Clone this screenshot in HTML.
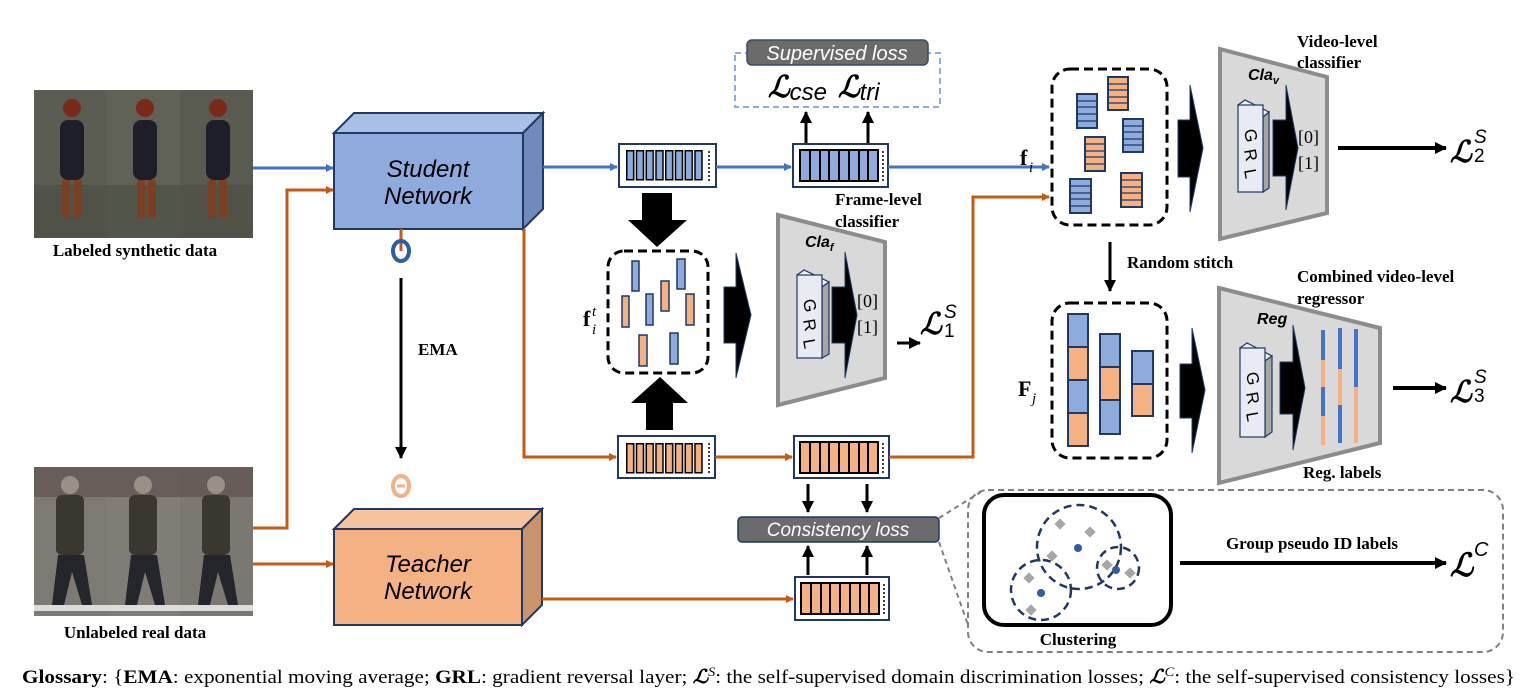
<!DOCTYPE html>
<html><head><meta charset="utf-8"><style>
html,body{margin:0;padding:0;background:#fff;}
svg{display:block;}
.lbl{font-family:"Liberation Serif",serif;font-weight:bold;font-size:17px;fill:#000;}
.net{font-family:"Liberation Sans",sans-serif;font-style:italic;font-size:24px;fill:#000;}
.scr{font-family:"DejaVu Serif","Liberation Serif",serif;font-style:italic;font-weight:bold;}
.mono{font-family:"Liberation Serif",serif;font-size:18px;}
</style></head><body>
<svg width="1525" height="699" viewBox="0 0 1525 699" xmlns="http://www.w3.org/2000/svg">
<defs>
<marker id="ab" markerWidth="8" markerHeight="8" refX="7" refY="4" orient="auto" markerUnits="userSpaceOnUse"><path d="M0,0 L8,4 L0,8 z" fill="#4472c4"/></marker>
<marker id="ao" markerWidth="8" markerHeight="8" refX="7" refY="4" orient="auto" markerUnits="userSpaceOnUse"><path d="M0,0 L8,4 L0,8 z" fill="#c55a11"/></marker>
<marker id="ak" markerWidth="12" markerHeight="12" refX="11" refY="6" orient="auto" markerUnits="userSpaceOnUse"><path d="M0,0 L12,6 L0,12 z" fill="#000"/></marker>
<pattern id="pb" width="9.75" height="40" patternUnits="userSpaceOnUse" x="626" y="150"><rect x="0.75" y="0.75" width="7" height="29" fill="#8faadc" stroke="#000" stroke-width="1.5"/></pattern>
<pattern id="po" width="9.75" height="40" patternUnits="userSpaceOnUse" x="626" y="443"><rect x="0.75" y="0.75" width="7" height="29" fill="#f4b183" stroke="#000" stroke-width="1.5"/></pattern>
</defs>

<!-- synthetic images -->
<g>
<rect x="34" y="90" width="73" height="148" fill="#5b5d52"/>
<rect x="107" y="90" width="73" height="148" fill="#606256"/>
<rect x="180" y="90" width="73" height="148" fill="#5a5b50"/>
<rect x="34" y="185" width="219" height="53" fill="#4d5046" opacity="0.7"/>
<g fill="#1e1e28">
<rect x="60" y="120" width="24" height="60" rx="8"/><rect x="133" y="120" width="24" height="60" rx="8"/><rect x="206" y="120" width="24" height="60" rx="8"/>
</g>
<g fill="#7a2a1a"><circle cx="72" cy="108" r="9"/><circle cx="145" cy="108" r="9"/><circle cx="218" cy="108" r="9"/></g>
<g fill="#7b3f22"><rect x="62" y="180" width="8" height="38"/><rect x="74" y="180" width="8" height="38"/><rect x="137" y="180" width="8" height="38"/><rect x="148" y="180" width="8" height="38"/><rect x="208" y="180" width="8" height="38"/><rect x="219" y="180" width="8" height="38"/></g>
</g>
<text class="lbl" x="135" y="256" text-anchor="middle">Labeled synthetic data</text>

<!-- real images -->
<g>
<rect x="34" y="467" width="73" height="149" fill="#7d7a74"/>
<rect x="107" y="467" width="73" height="149" fill="#807c76"/>
<rect x="180" y="467" width="73" height="149" fill="#7b7872"/>
<rect x="34" y="467" width="219" height="30" fill="#5a4a48" opacity="0.6"/>
<g fill="#3a3630"><rect x="56" y="495" width="28" height="60" rx="6"/><rect x="129" y="495" width="28" height="60" rx="6"/><rect x="202" y="495" width="28" height="60" rx="6"/></g>
<g fill="#25262c"><path d="M58,555 L84,555 L92,605 L82,605 L72,572 L64,605 L52,605z"/><path d="M131,555 L157,555 L165,605 L155,605 L145,572 L137,605 L125,605z"/><path d="M204,555 L230,555 L238,605 L228,605 L218,572 L210,605 L198,605z"/></g>
<g fill="#9a9088"><circle cx="70" cy="485" r="9"/><circle cx="143" cy="485" r="9"/><circle cx="216" cy="485" r="9"/></g>
<rect x="34" y="605" width="219" height="6" fill="#dcdcdc"/>
</g>
<text class="lbl" x="135" y="638" text-anchor="middle">Unlabeled real data</text>

<!-- student network -->
<polygon points="334,133 354,113 543,113 523,133" fill="#a9bfe6" stroke="#1f3864" stroke-width="2"/>
<polygon points="523,133 543,113 543,209 523,229" fill="#7189bb" stroke="#1f3864" stroke-width="2"/>
<rect x="334" y="133" width="189" height="96" fill="#8faadc" stroke="#1f3864" stroke-width="2"/>
<text class="net" x="428" y="177" text-anchor="middle">Student</text>
<text class="net" x="428" y="204" text-anchor="middle">Network</text>

<!-- teacher network -->
<polygon points="334,529 354,509 542,509 522,529" fill="#f6c49e" stroke="#1f3864" stroke-width="2"/>
<polygon points="522,529 542,509 542,605 522,625" fill="#c9936b" stroke="#1f3864" stroke-width="2"/>
<rect x="334" y="529" width="188" height="96" fill="#f4b183" stroke="#1f3864" stroke-width="2"/>
<text class="net" x="428" y="572" text-anchor="middle">Teacher</text>
<text class="net" x="428" y="599" text-anchor="middle">Network</text>

<!-- input arrows -->
<line x1="253" y1="168" x2="333" y2="168" stroke="#4472c4" stroke-width="3" marker-end="url(#ab)"/>
<polyline points="253,528 287,528 287,190 333,190" fill="none" stroke="#c55a11" stroke-width="3" marker-end="url(#ao)"/>
<line x1="253" y1="564" x2="333" y2="564" stroke="#c55a11" stroke-width="3" marker-end="url(#ao)"/>

<!-- theta / EMA -->
<line x1="401" y1="229" x2="401" y2="251" stroke="#c55a11" stroke-width="3"/>
<ellipse cx="401" cy="251" rx="8" ry="10" fill="none" stroke="#2e5ca8" stroke-width="4"/>
<line x1="401" y1="278" x2="401" y2="458" stroke="#000" stroke-width="3" marker-end="url(#ak)"/>
<text class="lbl" x="418" y="355">EMA</text>
<ellipse cx="401" cy="486" rx="8" ry="10" fill="none" stroke="#f4b183" stroke-width="4"/>
<line x1="397" y1="486" x2="405" y2="486" stroke="#f4b183" stroke-width="3"/>

<!-- student outputs -->
<line x1="543" y1="167" x2="617" y2="167" stroke="#4472c4" stroke-width="3" marker-end="url(#ab)"/>
<polyline points="524,229 524,457 616,457" fill="none" stroke="#c55a11" stroke-width="3" marker-end="url(#ao)"/>

<!-- feature box 1 blue -->
<rect x="619" y="144" width="97" height="43" fill="#fff" stroke="#1f3864" stroke-width="2"/>
<rect x="626" y="150" width="78" height="31" fill="url(#pb)"/>
<line x1="709" y1="151" x2="709" y2="181" stroke="#000" stroke-width="1.5" stroke-dasharray="2,2"/>
<line x1="716" y1="167" x2="791" y2="167" stroke="#4472c4" stroke-width="3" marker-end="url(#ab)"/>
<!-- feature box 2 blue -->
<rect x="793" y="144" width="95" height="43" fill="#fff" stroke="#1f3864" stroke-width="2"/>
<rect x="800" y="150" width="78" height="31" fill="#8faadc" stroke="#000" stroke-width="2"/>
<g stroke="#000" stroke-width="2"><line x1="810" y1="150" x2="810" y2="181"/><line x1="820" y1="150" x2="820" y2="181"/><line x1="829" y1="150" x2="829" y2="181"/><line x1="839" y1="150" x2="839" y2="181"/><line x1="849" y1="150" x2="849" y2="181"/><line x1="859" y1="150" x2="859" y2="181"/><line x1="868" y1="150" x2="868" y2="181"/></g>
<line x1="883" y1="151" x2="883" y2="181" stroke="#000" stroke-width="1.5" stroke-dasharray="2,2"/>
<line x1="888" y1="167" x2="1049" y2="167" stroke="#4472c4" stroke-width="3" marker-end="url(#ab)"/>

<!-- supervised loss -->
<rect x="735" y="53" width="205" height="54" fill="none" stroke="#8faadc" stroke-width="2" stroke-dasharray="6,4"/>
<rect x="747" y="40" width="181" height="25" rx="5" fill="#6b6b6b" stroke="#3a4a6a" stroke-width="1.5"/>
<text x="837" y="60" text-anchor="middle" font-family="Liberation Sans,sans-serif" font-style="italic" font-size="20" fill="#fff">Supervised loss</text>
<text class="scr" x="768" y="97" font-size="30">ℒ<tspan font-size="24" font-weight="normal" font-style="italic" font-family="Liberation Sans,sans-serif" dy="3">cse</tspan></text>
<text class="scr" x="838" y="97" font-size="30">ℒ<tspan font-size="24" font-weight="normal" font-style="italic" font-family="Liberation Sans,sans-serif" dy="3">tri</tspan></text>
<line x1="806" y1="143" x2="806" y2="112" stroke="#000" stroke-width="3" marker-end="url(#ak)"/>
<line x1="868" y1="143" x2="868" y2="112" stroke="#000" stroke-width="3" marker-end="url(#ak)"/>
<text class="lbl" x="835" y="205">Frame-level</text>
<text class="lbl" x="835" y="227">classifier</text>

<!-- big arrows -->
<polygon points="642,193 672,193 672,220 687,220 657,247 628,220 642,220" fill="#000"/>
<polygon points="646,430 673,430 673,403 688,403 660,377 631,403 646,403" fill="#000"/>

<!-- fi^t box -->
<rect x="608" y="251" width="100" height="122" rx="16" fill="none" stroke="#000" stroke-width="3" stroke-dasharray="9,5"/>
<g stroke="#1f3864" stroke-width="1.5">
<rect x="632" y="261" width="7" height="30" fill="#8faadc"/>
<rect x="677" y="259" width="8" height="30" fill="#8faadc"/>
<rect x="661" y="281" width="8" height="30" fill="#f4b183"/>
<rect x="622" y="296" width="7" height="31" fill="#f4b183"/>
<rect x="646" y="294" width="7" height="31" fill="#8faadc"/>
<rect x="686" y="294" width="8" height="31" fill="#f4b183"/>
<rect x="639" y="335" width="8" height="31" fill="#f4b183"/>
<rect x="670" y="333" width="8" height="31" fill="#8faadc"/>
</g>
<text x="583" y="326" font-family="Liberation Serif,serif" font-weight="bold" font-size="22">f</text>
<text x="592" y="316" font-family="Liberation Serif,serif" font-style="italic" font-size="15">t</text>
<text x="592" y="334" font-family="Liberation Serif,serif" font-style="italic" font-size="15">i</text>

<!-- chevron arrow 1 -->
<polygon points="724,287 736,287 736,253 751,315 736,378 736,343 724,343" fill="#000" stroke="#1f3864"/>

<!-- Cla_f -->
<polygon points="778,215 885,242 885,378 778,405" fill="#d9d9d9" stroke="#8c8c8c" stroke-width="4"/>
<text x="805" y="247" font-family="Liberation Sans,sans-serif" font-style="italic" font-weight="bold" font-size="16">Cla<tspan font-size="11" dy="4">f</tspan></text>
<polygon points="797,275 804,270 829,282 822,287" fill="#eef0f6" stroke="#1f3864" stroke-width="1.2"/>
<polygon points="822,287 829,282 829,354 822,358" fill="#a6a6a6" stroke="#1f3864" stroke-width="1.2"/>
<rect x="797" y="275" width="25" height="83" fill="#e8ebf3" stroke="#1f3864" stroke-width="1.2"/>
<text font-family="Liberation Sans,sans-serif" font-size="17" transform="translate(803,300) rotate(80)">G</text>
<text font-family="Liberation Sans,sans-serif" font-size="17" transform="translate(803,320) rotate(80)">R</text>
<text font-family="Liberation Sans,sans-serif" font-size="17" transform="translate(803,340) rotate(80)">L</text>
<polygon points="832,287 845,287 845,252 857,315 845,378 845,343 832,343" fill="#000" stroke="#1f3864"/>
<text class="mono" x="857" y="307">[0]</text>
<text class="mono" x="857" y="333">[1]</text>
<line x1="897" y1="343" x2="920" y2="343" stroke="#000" stroke-width="3" marker-end="url(#ak)"/>
<text class="scr" x="920" y="334" font-size="30">ℒ</text>
<text x="944" y="318" font-family="Liberation Sans,sans-serif" font-style="italic" font-size="19">S</text>
<text x="944" y="337" font-family="Liberation Sans,sans-serif" font-size="19">1</text>

<!-- bottom orange feature boxes -->
<rect x="618" y="436" width="97" height="42" fill="#fff" stroke="#1f3864" stroke-width="2"/>
<rect x="626" y="443" width="78" height="31" fill="url(#po)"/>
<line x1="709" y1="443" x2="709" y2="473" stroke="#000" stroke-width="1.5" stroke-dasharray="2,2"/>
<line x1="715" y1="457" x2="792" y2="457" stroke="#c55a11" stroke-width="3" marker-end="url(#ao)"/>
<rect x="794" y="436" width="95" height="42" fill="#fff" stroke="#1f3864" stroke-width="2"/>
<rect x="800" y="442" width="78" height="31" fill="#f4b183" stroke="#000" stroke-width="2"/>
<g stroke="#000" stroke-width="2"><line x1="810" y1="442" x2="810" y2="473"/><line x1="820" y1="442" x2="820" y2="473"/><line x1="829" y1="442" x2="829" y2="473"/><line x1="839" y1="442" x2="839" y2="473"/><line x1="849" y1="442" x2="849" y2="473"/><line x1="859" y1="442" x2="859" y2="473"/><line x1="868" y1="442" x2="868" y2="473"/></g>
<line x1="883" y1="443" x2="883" y2="473" stroke="#000" stroke-width="1.5" stroke-dasharray="2,2"/>
<polyline points="889,457 973,457 973,197 1049,197" fill="none" stroke="#c55a11" stroke-width="3" marker-end="url(#ao)"/>

<!-- consistency -->
<line x1="808" y1="484" x2="808" y2="512" stroke="#000" stroke-width="3" marker-end="url(#ak)"/>
<line x1="867" y1="484" x2="867" y2="512" stroke="#000" stroke-width="3" marker-end="url(#ak)"/>
<rect x="738" y="517" width="201" height="25" rx="4" fill="#6b6b6b" stroke="#1f3864" stroke-width="1.5"/>
<text x="838" y="536" text-anchor="middle" font-family="Liberation Sans,sans-serif" font-style="italic" font-size="19" fill="#fff">Consistency loss</text>
<line x1="808" y1="575" x2="808" y2="546" stroke="#000" stroke-width="3" marker-end="url(#ak)"/>
<line x1="867" y1="575" x2="867" y2="546" stroke="#000" stroke-width="3" marker-end="url(#ak)"/>
<rect x="795" y="577" width="94" height="43" fill="#fff" stroke="#1f3864" stroke-width="2"/>
<rect x="801" y="583" width="78" height="31" fill="#f4b183" stroke="#000" stroke-width="2"/>
<g stroke="#000" stroke-width="2"><line x1="811" y1="583" x2="811" y2="614"/><line x1="821" y1="583" x2="821" y2="614"/><line x1="830" y1="583" x2="830" y2="614"/><line x1="840" y1="583" x2="840" y2="614"/><line x1="850" y1="583" x2="850" y2="614"/><line x1="860" y1="583" x2="860" y2="614"/><line x1="869" y1="583" x2="869" y2="614"/></g>
<line x1="884" y1="584" x2="884" y2="614" stroke="#000" stroke-width="1.5" stroke-dasharray="2,2"/>
<line x1="542" y1="599" x2="793" y2="599" stroke="#c55a11" stroke-width="3" marker-end="url(#ao)"/>

<!-- clustering region -->
<rect x="968" y="490" width="535" height="162" rx="20" fill="none" stroke="#808080" stroke-width="2" stroke-dasharray="6,4"/>
<line x1="939" y1="518" x2="984" y2="490" stroke="#808080" stroke-width="2" stroke-dasharray="5,4"/>
<line x1="939" y1="542" x2="968" y2="625" stroke="#808080" stroke-width="2" stroke-dasharray="5,4"/>
<rect x="984" y="495" width="187" height="130" rx="20" fill="#fff" stroke="#000" stroke-width="4"/>
<g fill="none" stroke="#1f3864" stroke-width="2.5" stroke-dasharray="8,5">
<circle cx="1079" cy="547" r="42"/><circle cx="1041" cy="590" r="30"/><circle cx="1118" cy="568" r="21"/>
</g>
<g fill="#a6a6a6">
<rect x="1056" y="520" width="8" height="8" transform="rotate(45 1060 524)"/>
<rect x="1086" y="528" width="8" height="8" transform="rotate(45 1090 532)"/>
<rect x="1048" y="552" width="8" height="8" transform="rotate(45 1052 556)"/>
<rect x="1025" y="574" width="8" height="8" transform="rotate(45 1029 578)"/>
<rect x="1027" y="606" width="8" height="8" transform="rotate(45 1031 610)"/>
<rect x="1103" y="561" width="8" height="8" transform="rotate(45 1107 565)"/>
<rect x="1126" y="569" width="8" height="8" transform="rotate(45 1130 573)"/>
</g>
<g fill="#2e5ca8"><circle cx="1078" cy="548" r="4"/><circle cx="1041" cy="593" r="4"/><circle cx="1116" cy="570" r="4"/></g>
<text class="lbl" x="1078" y="645" text-anchor="middle">Clustering</text>
<line x1="1180" y1="563" x2="1446" y2="563" stroke="#000" stroke-width="4" marker-end="url(#ak)"/>
<text class="lbl" x="1312" y="549" text-anchor="middle">Group pseudo ID labels</text>
<text class="scr" x="1450" y="576" font-size="32">ℒ</text>
<text x="1474" y="556" font-family="Liberation Sans,sans-serif" font-style="italic" font-size="20">C</text>

<!-- fi box -->
<rect x="1052" y="69" width="115" height="156" rx="18" fill="none" stroke="#000" stroke-width="3" stroke-dasharray="9,5"/>
<text x="1020" y="165" font-family="Liberation Serif,serif" font-weight="bold" font-size="22">f</text>
<text x="1029" y="172" font-family="Liberation Serif,serif" font-style="italic" font-size="15">i</text>
<g stroke="#1f3864" stroke-width="2">
<rect x="1077" y="94" width="20" height="34" fill="#8faadc"/><rect x="1108" y="77" width="20" height="33" fill="#f4b183"/>
<rect x="1123" y="119" width="20" height="33" fill="#8faadc"/><rect x="1085" y="137" width="20" height="34" fill="#f4b183"/>
<rect x="1070" y="179" width="21" height="34" fill="#8faadc"/><rect x="1121" y="173" width="21" height="34" fill="#f4b183"/>
</g>
<g stroke="#1f3864" stroke-width="1.2">
<path d="M1077,101h20M1077,107h20M1077,114h20M1077,121h20M1108,84h20M1108,90h20M1108,97h20M1108,103h20M1123,126h20M1123,132h20M1123,139h20M1123,145h20M1085,144h20M1085,151h20M1085,157h20M1085,164h20M1070,186h21M1070,193h21M1070,199h21M1070,206h21M1121,180h21M1121,187h21M1121,193h21M1121,200h21"/>
</g>
<polygon points="1178,120 1190,120 1190,85 1203,148 1190,212 1190,177 1178,177" fill="#000" stroke="#1f3864"/>

<!-- Cla_v -->
<polygon points="1220,49 1327,77 1327,213 1220,239" fill="#d9d9d9" stroke="#8c8c8c" stroke-width="4"/>
<text class="lbl" x="1297" y="47">Video-level</text>
<text class="lbl" x="1297" y="68">classifier</text>
<text x="1248" y="80" font-family="Liberation Sans,sans-serif" font-style="italic" font-weight="bold" font-size="16">Cla<tspan font-size="11" dy="4">v</tspan></text>
<polygon points="1238,105 1245,100 1269,112 1263,117" fill="#eef0f6" stroke="#1f3864" stroke-width="1.2"/>
<polygon points="1263,117 1269,112 1269,188 1263,192" fill="#a6a6a6" stroke="#1f3864" stroke-width="1.2"/>
<rect x="1238" y="105" width="25" height="87" fill="#e8ebf3" stroke="#1f3864" stroke-width="1.2"/>
<text font-family="Liberation Sans,sans-serif" font-size="17" transform="translate(1244,130) rotate(80)">G</text>
<text font-family="Liberation Sans,sans-serif" font-size="17" transform="translate(1244,150) rotate(80)">R</text>
<text font-family="Liberation Sans,sans-serif" font-size="17" transform="translate(1244,170) rotate(80)">L</text>
<polygon points="1273,120 1286,120 1286,85 1298,148 1286,210 1286,176 1273,176" fill="#000" stroke="#1f3864"/>
<text class="mono" x="1298" y="143">[0]</text>
<text class="mono" x="1298" y="169">[1]</text>
<line x1="1338" y1="148" x2="1446" y2="148" stroke="#000" stroke-width="4" marker-end="url(#ak)"/>
<text class="scr" x="1450" y="162" font-size="30">ℒ</text>
<text x="1474" y="143" font-family="Liberation Sans,sans-serif" font-style="italic" font-size="19">S</text>
<text x="1474" y="162" font-family="Liberation Sans,sans-serif" font-size="19">2</text>

<!-- random stitch -->
<line x1="1110" y1="242" x2="1110" y2="291" stroke="#000" stroke-width="3" marker-end="url(#ak)"/>
<text class="lbl" x="1127" y="268">Random stitch</text>

<!-- Fj box -->
<rect x="1052" y="303" width="115" height="155" rx="18" fill="none" stroke="#000" stroke-width="3" stroke-dasharray="9,5"/>
<text x="1018" y="396" font-family="Liberation Serif,serif" font-weight="bold" font-size="22">F</text>
<text x="1032" y="403" font-family="Liberation Serif,serif" font-style="italic" font-size="15">j</text>
<g stroke="#1f3864" stroke-width="2">
<rect x="1068" y="314" width="20" height="33" fill="#8faadc"/><rect x="1068" y="347" width="20" height="33" fill="#f4b183"/><rect x="1068" y="380" width="20" height="33" fill="#8faadc"/><rect x="1068" y="413" width="20" height="33" fill="#f4b183"/>
<rect x="1100" y="334" width="20" height="33" fill="#8faadc"/><rect x="1100" y="367" width="20" height="33" fill="#f4b183"/><rect x="1100" y="400" width="20" height="34" fill="#8faadc"/>
<rect x="1132" y="351" width="21" height="33" fill="#8faadc"/><rect x="1132" y="384" width="21" height="32" fill="#f4b183"/>
</g>
<polygon points="1180,364 1192,364 1192,328 1205,390 1192,453 1192,418 1180,418" fill="#000" stroke="#1f3864"/>

<!-- Reg -->
<polygon points="1219,288 1380,328 1380,443 1219,483" fill="#d9d9d9" stroke="#8c8c8c" stroke-width="4"/>
<text class="lbl" x="1297" y="282">Combined video-level</text>
<text class="lbl" x="1297" y="304">regressor</text>
<text x="1257" y="324" font-family="Liberation Sans,sans-serif" font-style="italic" font-weight="bold" font-size="16">Reg</text>
<polygon points="1240,348 1247,343 1272,356 1265,361" fill="#eef0f6" stroke="#1f3864" stroke-width="1.2"/>
<polygon points="1265,361 1272,356 1272,432 1265,437" fill="#a6a6a6" stroke="#1f3864" stroke-width="1.2"/>
<rect x="1240" y="348" width="25" height="89" fill="#e8ebf3" stroke="#1f3864" stroke-width="1.2"/>
<text font-family="Liberation Sans,sans-serif" font-size="17" transform="translate(1246,373) rotate(80)">G</text>
<text font-family="Liberation Sans,sans-serif" font-size="17" transform="translate(1246,393) rotate(80)">R</text>
<text font-family="Liberation Sans,sans-serif" font-size="17" transform="translate(1246,413) rotate(80)">L</text>
<polygon points="1280,362 1293,362 1293,325 1305,388 1293,450 1293,414 1280,414" fill="#000" stroke="#1f3864"/>
<g>
<rect x="1321" y="330" width="4" height="30" fill="#4472c4"/><rect x="1321" y="360" width="4" height="27" fill="#f4b183"/><rect x="1321" y="387" width="4" height="29" fill="#4472c4"/><rect x="1321" y="416" width="4" height="29" fill="#f4b183"/>
<rect x="1338" y="328" width="4" height="41" fill="#4472c4"/><rect x="1338" y="369" width="4" height="36" fill="#f4b183"/><rect x="1338" y="405" width="4" height="38" fill="#4472c4"/>
<rect x="1354" y="329" width="4" height="58" fill="#4472c4"/><rect x="1354" y="387" width="4" height="56" fill="#f4b183"/>
</g>
<text class="lbl" x="1303" y="478">Reg. labels</text>
<line x1="1393" y1="388" x2="1446" y2="388" stroke="#000" stroke-width="4" marker-end="url(#ak)"/>
<text class="scr" x="1450" y="402" font-size="30">ℒ</text>
<text x="1474" y="383" font-family="Liberation Sans,sans-serif" font-style="italic" font-size="19">S</text>
<text x="1474" y="402" font-family="Liberation Sans,sans-serif" font-size="19">3</text>

<!-- glossary -->
<text x="22" y="683" font-family="Liberation Serif,serif" font-size="19" textLength="1493" lengthAdjust="spacingAndGlyphs"><tspan font-weight="bold">Glossary</tspan>: {<tspan font-weight="bold">EMA</tspan>: exponential moving average; <tspan font-weight="bold">GRL</tspan>:  gradient reversal layer; <tspan class="scr">ℒ</tspan><tspan font-style="italic" font-size="13" dy="-7">S</tspan><tspan dy="7">: the self-supervised domain discrimination losses; </tspan><tspan class="scr">ℒ</tspan><tspan font-style="italic" font-size="13" dy="-7">C</tspan><tspan dy="7">: the self-supervised consistency losses}</tspan></text>
</svg>
</body></html>
